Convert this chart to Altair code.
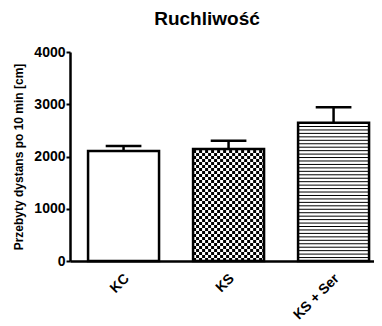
import json
import altair as alt
import pandas as pd

groups = ["KC", "KS", "KS + Ser"]
means = [2105, 2143, 2647]
upper_err = [95, 159, 295]
patterns = ["none", "checker", "stripes"]
y_ticks = [0, 1000, 2000, 3000, 4000]

df = pd.DataFrame({"group": groups, "mean": means, "err": upper_err, "pattern": patterns})

HALF = 0.338
CAP = 0.17
CELLX = 0.0286
CELLY = 57.4
STRIPE = 66
FONT = "Liberation Sans"

gjson = json.dumps(groups)

xscale = alt.Scale(domain=[-0.01, 2.885], nice=False, zero=False)
yscale = alt.Scale(domain=[0, 4000], nice=False)

base = alt.Chart(df).transform_calculate(
    c=f"indexof({gjson}, datum.group) + 0.5"
).transform_calculate(
    xl=f"datum.c - {HALF}", xr=f"datum.c + {HALF}",
    cl=f"datum.c - {CAP}", cr=f"datum.c + {CAP}",
    top="datum.mean + datum.err", zero="0"
)

xaxis = alt.Axis(values=[0.5, 1.5, 2.5], labelExpr=f"{gjson}[floor(datum.value)]",
                 labelAngle=315, labelAlign="right", labelBaseline="middle",
                 ticks=False, title=None, labelPadding=15, labelOffset=3, grid=False,
                 domainWidth=2.5, domainColor="black", labelFont=FONT,
                 labelFontSize=14, labelFontWeight="bold", labelColor="black")
yaxis = alt.Axis(values=y_ticks, format="d", grid=False, tickSize=4, tickWidth=2,
                 tickColor="black", domainWidth=2.5, domainColor="black",
                 labelFont=FONT, labelFontSize=14, labelFontWeight="bold",
                 labelColor="black", labelPadding=1,
                 title="Przebyty dystans po 10 min [cm]", titleFont=FONT,
                 titleFontSize=12, titleFontWeight="bold", titleColor="black",
                 titlePadding=8)

fill = base.mark_rect(fill="white", strokeWidth=0).encode(
    x=alt.X("xl:Q", scale=xscale, axis=xaxis), x2="xr:Q",
    y=alt.Y("mean:Q", scale=yscale, axis=yaxis), y2="zero:Q")

cells = base.transform_filter("datum.pattern == 'checker'").transform_calculate(
    rows=f"sequence(0, ceil(datum.mean / {CELLY}))",
    cols=f"sequence(0, ceil({2*HALF} / {CELLX}))"
).transform_flatten(["rows"], as_=["row"]).transform_flatten(["cols"], as_=["col"]).transform_filter(
    "(datum.row + datum.col) % 2 == 0"
).transform_calculate(
    px=f"datum.xl + datum.col * {CELLX}",
    py=f"datum.row * {CELLY}"
).transform_calculate(
    px2=f"min(datum.px + {CELLX}, datum.xr)",
    py2=f"min(datum.py + {CELLY}, datum.mean)"
).transform_filter("datum.px < datum.xr && datum.py < datum.mean").mark_rect(
    fill="black", strokeWidth=0).encode(
    x=alt.X("px:Q", scale=xscale), x2="px2:Q",
    y=alt.Y("py:Q", scale=yscale), y2="py2:Q")

stripes = base.transform_filter("datum.pattern == 'stripes'").transform_calculate(
    rows=f"sequence(1, ceil(datum.mean / {STRIPE}))"
).transform_flatten(["rows"], as_=["row"]).transform_calculate(
    sy=f"datum.row * {STRIPE}"
).mark_rule(color="black", strokeWidth=1).encode(
    x=alt.X("xl:Q", scale=xscale), x2="xr:Q",
    y=alt.Y("sy:Q", scale=yscale))

outline = base.mark_rect(fillOpacity=0, stroke="black", strokeWidth=2.5).encode(
    x=alt.X("xl:Q", scale=xscale), x2="xr:Q",
    y=alt.Y("mean:Q", scale=yscale), y2="zero:Q")

stem = base.mark_rule(color="black", strokeWidth=2.5).encode(
    x=alt.X("c:Q", scale=xscale),
    y=alt.Y("mean:Q", scale=yscale), y2="top:Q")

cap = base.mark_rule(color="black", strokeWidth=2.5).encode(
    x=alt.X("cl:Q", scale=xscale), x2="cr:Q",
    y=alt.Y("top:Q", scale=yscale))

chart = alt.layer(fill, cells, stripes, outline, stem, cap).properties(
    width=304, height=209,
    title=alt.TitleParams("Ruchliwość", font=FONT, fontSize=19, fontWeight="bold",
                          color="black", anchor="middle", dx=-15, offset=16),
    autosize=alt.AutoSizeParams(type="none"),
    padding={"left": 62, "top": 44, "right": 0, "bottom": 66}
).configure_view(stroke=None)

chart.save("out.html", embed_options={"renderer": "svg", "actions": False})
